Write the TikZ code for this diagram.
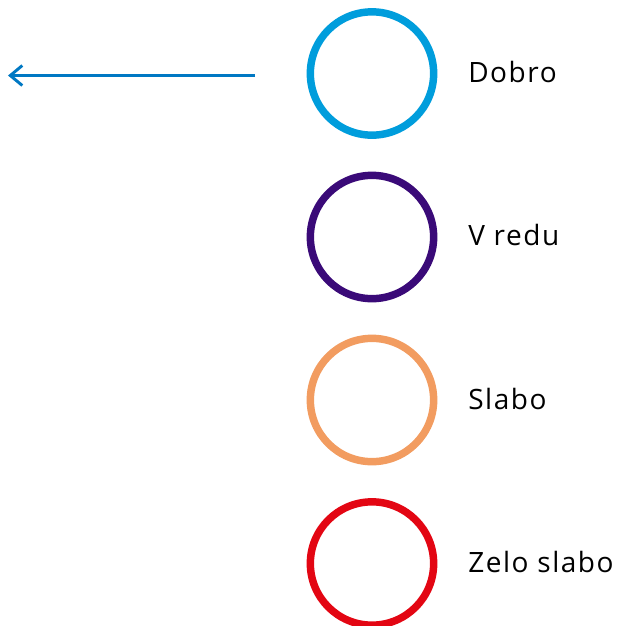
\documentclass[tikz,border=0pt]{standalone}
\usepackage{fontspec}
\setmainfont{Open Sans}[LetterSpace=5.5]
\usetikzlibrary{arrows.meta}
\usetikzlibrary{positioning}

\definecolor{dobroblue}{RGB}{0,157,220}
\definecolor{vreduviolet}{RGB}{58,10,120}
\definecolor{slaboorange}{RGB}{242,156,96}
\definecolor{zeloslabored}{RGB}{227,6,19}
\definecolor{arrowblue}{RGB}{0,120,195}

\tikzset{
  ring/.style={draw, circle, line width=5.6pt, minimum size=92.5pt, inner sep=0pt},
  lbl/.style={anchor=west, inner sep=0.75pt, font=\fontsize{21}{25}\selectfont}
}

\begin{document}
\begin{tikzpicture}[x=0.75pt,y=0.75pt,yscale=-1,xscale=1]
\useasboundingbox (0,0) rectangle (618,626);

\node [ring, draw=dobroblue] (dobro) at (372,73.5) {};
\node [ring, draw=vreduviolet] (vredu) at (372,237) {};
\node [ring, draw=slaboorange] (slabo) at (372,400) {};
\node [ring, draw=zeloslabored] (zeloslabo) at (372,563.5) {};

\node [lbl] (tdobro) at (467,71.5) {Dobro};
\node [lbl] (tvredu) at (467,234.5) {V redu};
\node [lbl] (tslabo) at (467,398.5) {Slabo};
\node [lbl] (tzeloslabo) at (467,561.5) {Zelo slabo};

\coordinate (arrowstart) at (255,75.5);
\coordinate (arrowend) at (8,75.5);
\draw [arrowblue, line width=2.2pt, -{Straight Barb[length=9pt,width=15pt,line width=2.2pt]}] (arrowstart) -- (arrowend);

\end{tikzpicture}
\end{document}
